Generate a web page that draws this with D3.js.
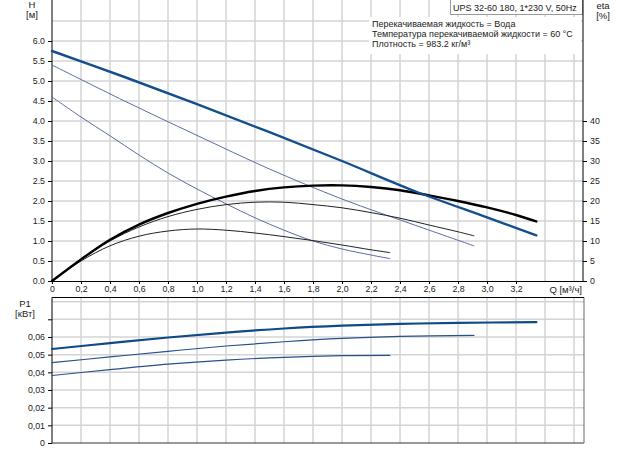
<!DOCTYPE html>
<html><head><meta charset="utf-8">
<script src="https://cdn.jsdelivr.net/npm/d3@7"></script>
<style>body{margin:0;background:#fff}svg{display:block;font-family:"Liberation Sans",Arial,sans-serif}</style>
</head><body><svg id="c" width="622" height="450"></svg>
<script>
// ---- data ----
const qTicks = [0,0.2,0.4,0.6,0.8,1.0,1.2,1.4,1.6,1.8,2.0,2.2,2.4,2.6,2.8,3.0,3.2];
const qGrid = [0.2,0.4,0.6,0.8,1.0,1.2,1.4,1.6,1.8,2.0,2.2,2.4,2.6,2.8,3.0,3.2,3.4,3.6];
const hTicks = [0,0.5,1,1.5,2,2.5,3,3.5,4,4.5,5,5.5,6];
const hGrid = [0.5,1,1.5,2,2.5,3,3.5,4,4.5,5,5.5,6,6.5];
const etaTicks = [0,5,10,15,20,25,30,35,40];
const pTicks = [0,0.01,0.02,0.03,0.04,0.05,0.06,0.07];
const pGrid = [0.01,0.02,0.03,0.04,0.05,0.06,0.07,0.08];

const hMaxQ = [0,0.5,1.0,1.5,2.0,2.5,3.0,3.34];
const hMax  = [5.75,5.1,4.42,3.72,3.0,2.25,1.59,1.14];
const hMidQ = [0,0.5,1.0,1.5,2.0,2.5,2.91];
const hMid  = [5.4,4.5,3.64,2.8,2.05,1.4,0.88];
const hLowQ = [0,0.2,0.4,0.6,0.8,1.0,1.2,1.4,1.6,1.8,2.0,2.2,2.33];
const hLow  = [4.6,4.1,3.63,3.15,2.7,2.3,1.93,1.58,1.27,1.0,0.8,0.65,0.56];

const etaMaxQ = [0,0.2,0.4,0.6,0.8,1.0,1.2,1.4,1.6,1.8,2.0,2.2,2.4,2.6,2.8,3.0,3.2,3.34];
const etaMax  = [0,5.4,10.3,14.1,17.0,19.3,21.1,22.5,23.4,23.85,23.9,23.5,22.7,21.4,20.0,18.4,16.5,14.9];
const etaMidQ = [0,0.2,0.4,0.6,0.8,1.0,1.2,1.4,1.6,1.8,2.0,2.2,2.4,2.6,2.8,2.91];
const etaMid  = [0,5.3,10.0,13.5,16.1,17.9,19.1,19.7,19.7,19.1,18.3,17.1,15.7,14.0,12.3,11.3];
const etaLowQ = [0,0.2,0.4,0.6,0.8,1.0,1.2,1.4,1.6,1.8,2.0,2.2,2.33];
const etaLow  = [0,5.0,8.8,11.2,12.5,13.0,12.7,12.0,11.1,10.1,9.0,7.8,7.1];

const pMaxQ = [0,0.4,0.8,1.2,1.6,2.0,2.4,2.8,3.34];
const pMax  = [0.0532,0.0565,0.0597,0.0625,0.0648,0.0664,0.0674,0.068,0.0684];
const pMidQ = [0,0.4,0.8,1.2,1.6,2.0,2.4,2.91];
const pMid  = [0.0455,0.0487,0.0519,0.0549,0.0573,0.0592,0.0603,0.0609];
const pLowQ = [0,0.4,0.8,1.2,1.6,2.0,2.33];
const pLow  = [0.0382,0.0415,0.0446,0.0469,0.0485,0.0494,0.0496];

const titleText = "UPS 32-60 180, 1*230 V, 50Hz";
const infoLines = ["Перекачиваемая жидкость = Вода","Температура перекачиваемой жидкости = 60 °C","Плотность = 983.2 кг/м³"];

// ---- scales ----
const svg = d3.select("#c");
const x = d3.scaleLinear().domain([0,3.662]).range([52,583]);
const yH = d3.scaleLinear().domain([0,7]).range([281,1]);
const yE = d3.scaleLinear().domain([0,70]).range([281,1]);
const yP = d3.scaleLinear().domain([0,0.08234]).range([443,297.5]);

const gridC = "#d4d4d4";
const txtC = "#222";

// top grid
svg.append("g").selectAll("line").data(qGrid).join("line")
  .attr("x1",d=>x(d)).attr("x2",d=>x(d)).attr("y1",0).attr("y2",281)
  .attr("stroke",gridC).attr("stroke-width",1.5);
svg.append("g").selectAll("line").data(hGrid).join("line")
  .attr("x1",52).attr("x2",583).attr("y1",d=>yH(d)).attr("y2",d=>yH(d))
  .attr("stroke",gridC).attr("stroke-width",1.5);

// bottom grid
svg.append("g").selectAll("line").data(qGrid).join("line")
  .attr("x1",d=>x(d)).attr("x2",d=>x(d)).attr("y1",297.5).attr("y2",443)
  .attr("stroke",gridC).attr("stroke-width",1.5);
svg.append("g").selectAll("line").data(pGrid).join("line")
  .attr("x1",52).attr("x2",584).attr("y1",d=>yP(d)).attr("y2",d=>yP(d))
  .attr("stroke",gridC).attr("stroke-width",1.5);

// info box
svg.append("rect").attr("x",369).attr("y",17).attr("width",212).attr("height",37).attr("fill","#fff");
svg.append("rect").attr("x",450.5).attr("y",-1).attr("width",132).attr("height",15.5)
  .attr("fill","#fff").attr("stroke","#999").attr("stroke-width",1);
svg.append("text").attr("x",453).attr("y",10.5).attr("font-size",9).attr("fill",txtC).text(titleText);
svg.append("g").selectAll("text").data(infoLines).join("text")
  .attr("x",372).attr("y",(d,i)=>26.8+i*10.3).attr("font-size",9).attr("fill",txtC).text(d=>d);

// axes top
const fmtQ = d => d===0 ? "0" : d3.format(".1f")(d).replace(".",",");
const axX = d3.axisBottom(x).tickValues(qTicks).tickFormat(fmtQ).tickSize(3).tickSizeOuter(0);
const gx = svg.append("g").attr("transform","translate(0,281)").call(axX);
gx.select(".domain").attr("d","M52,0.5H583");
const axL = d3.axisLeft(yH).tickValues(hTicks).tickFormat(d3.format(".1f")).tickSize(4).tickSizeOuter(0);
const gl = svg.append("g").attr("transform","translate(52,0)").call(axL);
gl.select(".domain").attr("d","M0,0V281");
const axR = d3.axisRight(yE).tickValues(etaTicks).tickFormat(d3.format("d")).tickSize(4).tickSizeOuter(0);
const gr = svg.append("g").attr("transform","translate(583,0)").call(axR);
gr.select(".domain").attr("d","M0,0V281");

// axes bottom
const fmtP = d => d===0 ? "0" : (d>0.065 ? "" : d3.format(".2f")(d).replace(".",","));
const axP = d3.axisLeft(yP).tickValues(pTicks).tickFormat(fmtP).tickSize(4).tickSizeOuter(0);
const gp = svg.append("g").attr("transform","translate(52,0)").call(axP);
gp.select(".domain").attr("d","M0,297.5V443");
svg.append("line").attr("x1",52).attr("x2",584).attr("y1",297.5).attr("y2",297.5).attr("stroke","#000");
svg.append("line").attr("x1",52).attr("x2",584).attr("y1",443).attr("y2",443).attr("stroke","#333");
svg.append("line").attr("x1",584).attr("x2",584).attr("y1",297.5).attr("y2",443).attr("stroke","#666");

svg.selectAll(".tick text").attr("font-size",8.8).attr("fill",txtC).attr("font-family","Liberation Sans, Arial, sans-serif");
svg.selectAll(".domain").attr("stroke","#000");
gx.selectAll(".tick text").attr("dy","0.6em");

// axis titles
const lab = (t,xx,yy,anchor)=>svg.append("text").attr("x",xx).attr("y",yy).attr("font-size",9.5)
  .attr("fill",txtC).attr("text-anchor",anchor||"middle").text(t);
lab("H",32,7.5); lab("[м]",32,18);
lab("eta",603,8.5); lab("[%]",603,19);
lab("P1",25,306.5); lab("[кВт]",25,317);
lab("Q [м³/ч]",582,292.5,"end");

// curves
const mk = (qs,vs,ys) => d3.line().x((d,i)=>x(qs[i])).y(d=>ys(d)).curve(d3.curveCatmullRom.alpha(0.5))(vs);
const path = (d,c,w)=>svg.append("path").attr("d",d).attr("fill","none").attr("stroke",c).attr("stroke-width",w).attr("stroke-linecap","round");

path(mk(hLowQ,hLow,yH),"#5b6da3",1);
path(mk(hMidQ,hMid,yH),"#5b6da3",1);
path(mk(etaLowQ,etaLow,yE),"#222",1);
path(mk(etaMidQ,etaMid,yE),"#222",1);
path(mk(etaMaxQ,etaMax,yE),"#000",2.4);
path(mk(hMaxQ,hMax,yH),"#144e8c",2.4);

path(mk(pLowQ,pLow,yP),"#28508a",1.2);
path(mk(pMidQ,pMid,yP),"#28508a",1.2);
path(mk(pMaxQ,pMax,yP),"#0f4a88",2.2);
</script></body></html>
